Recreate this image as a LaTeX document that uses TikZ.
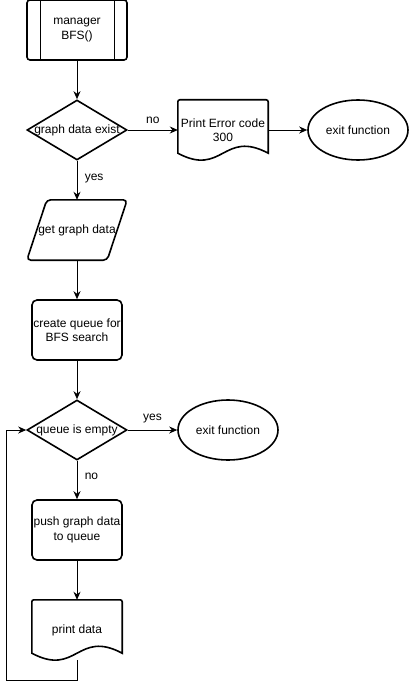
\documentclass[tikz,border=0pt]{standalone}
\usepackage{fontspec}
\setmainfont{Liberation Sans}
\usetikzlibrary{shapes.geometric,arrows.meta}
\newcommand{\docshape}[1]{%
\draw[shapeline] ([yshift=7]#1.south west) [rounded corners=2pt] -- (#1.north west) -- (#1.north east) [sharp corners] -- ([yshift=7]#1.south east)
  .. controls ([xshift=-45,yshift=31]#1.south east) and ([xshift=45,yshift=-17]#1.south west) .. ([yshift=7]#1.south west) -- cycle;}
\begin{document}
\begin{tikzpicture}[x=1pt, y=1pt, font=\fontsize{12}{14.5}\selectfont,
  shapeline/.style={draw, line width=1.6pt},
  box/.style={shapeline, rounded corners=5pt, minimum width=90pt, minimum height=60pt, inner sep=0pt, align=center},
  dec/.style={shapeline, diamond, minimum width=100pt, minimum height=60pt, inner sep=0pt},
  endpt/.style={shapeline, ellipse, minimum width=100pt, minimum height=60pt, inner sep=0pt},
  plain/.style={minimum width=#1, minimum height=60pt, inner sep=0pt, align=center},
  arr/.style={-{Stealth[length=8pt,width=7pt]}, line width=0.9pt}]
\useasboundingbox (0,0) rectangle (410,-690);
\node[box, rounded corners=3pt, minimum width=100pt] (mgr) at (77,-30) {manager\\BFS()};
\draw[line width=1.2pt] ([xshift=14]mgr.north west)--([xshift=14]mgr.south west) ([xshift=-13]mgr.north east)--([xshift=-13]mgr.south east);
\node[dec, label={center:graph data exist}] (ge) at (77,-130) {};
\node[plain=90pt] (err) at (223,-130) {Print Error code\\300};
\docshape{err}
\node[endpt] (ex1) at (358,-130) {exit function};
\node[plain=100pt] (gd) at (77,-230) {get graph data};
\draw[shapeline, rounded corners=4pt] ([xshift=20]gd.north west) -- (gd.north east) -- ([xshift=-20]gd.south east) -- (gd.south west) -- cycle;
\node[box] (cq) at (77,-330) {create queue for\\BFS search};
\node[dec, label={center:queue is empty}] (qe) at (77,-430) {};
\node[endpt] (ex2) at (228,-430) {exit function};
\node[box] (pq) at (77,-530) {push graph data\\to queue};
\node[plain=90pt] (pd) at (77,-630) {print data};
\docshape{pd}
\draw[arr] (mgr) -- (ge);
\draw[arr] (ge) -- (err) node[pos=.5, above=3pt] {no};
\draw[arr] (err) -- (ex1);
\draw[arr] (ge) -- (gd) node[pos=.45, right=4pt] {yes};
\draw[arr] (gd) -- (cq);
\draw[arr] (cq) -- (qe);
\draw[arr] (qe) -- (ex2) node[pos=.5, above=3pt] {yes};
\draw[arr] (qe) -- (pq) node[pos=.4, right=4pt] {no};
\draw[arr] (pq) -- (pd);
\draw[arr] (pd.south) -- ++(0,-20) -| ([xshift=-20]qe.west) -- (qe.west);
\end{tikzpicture}
\end{document}
